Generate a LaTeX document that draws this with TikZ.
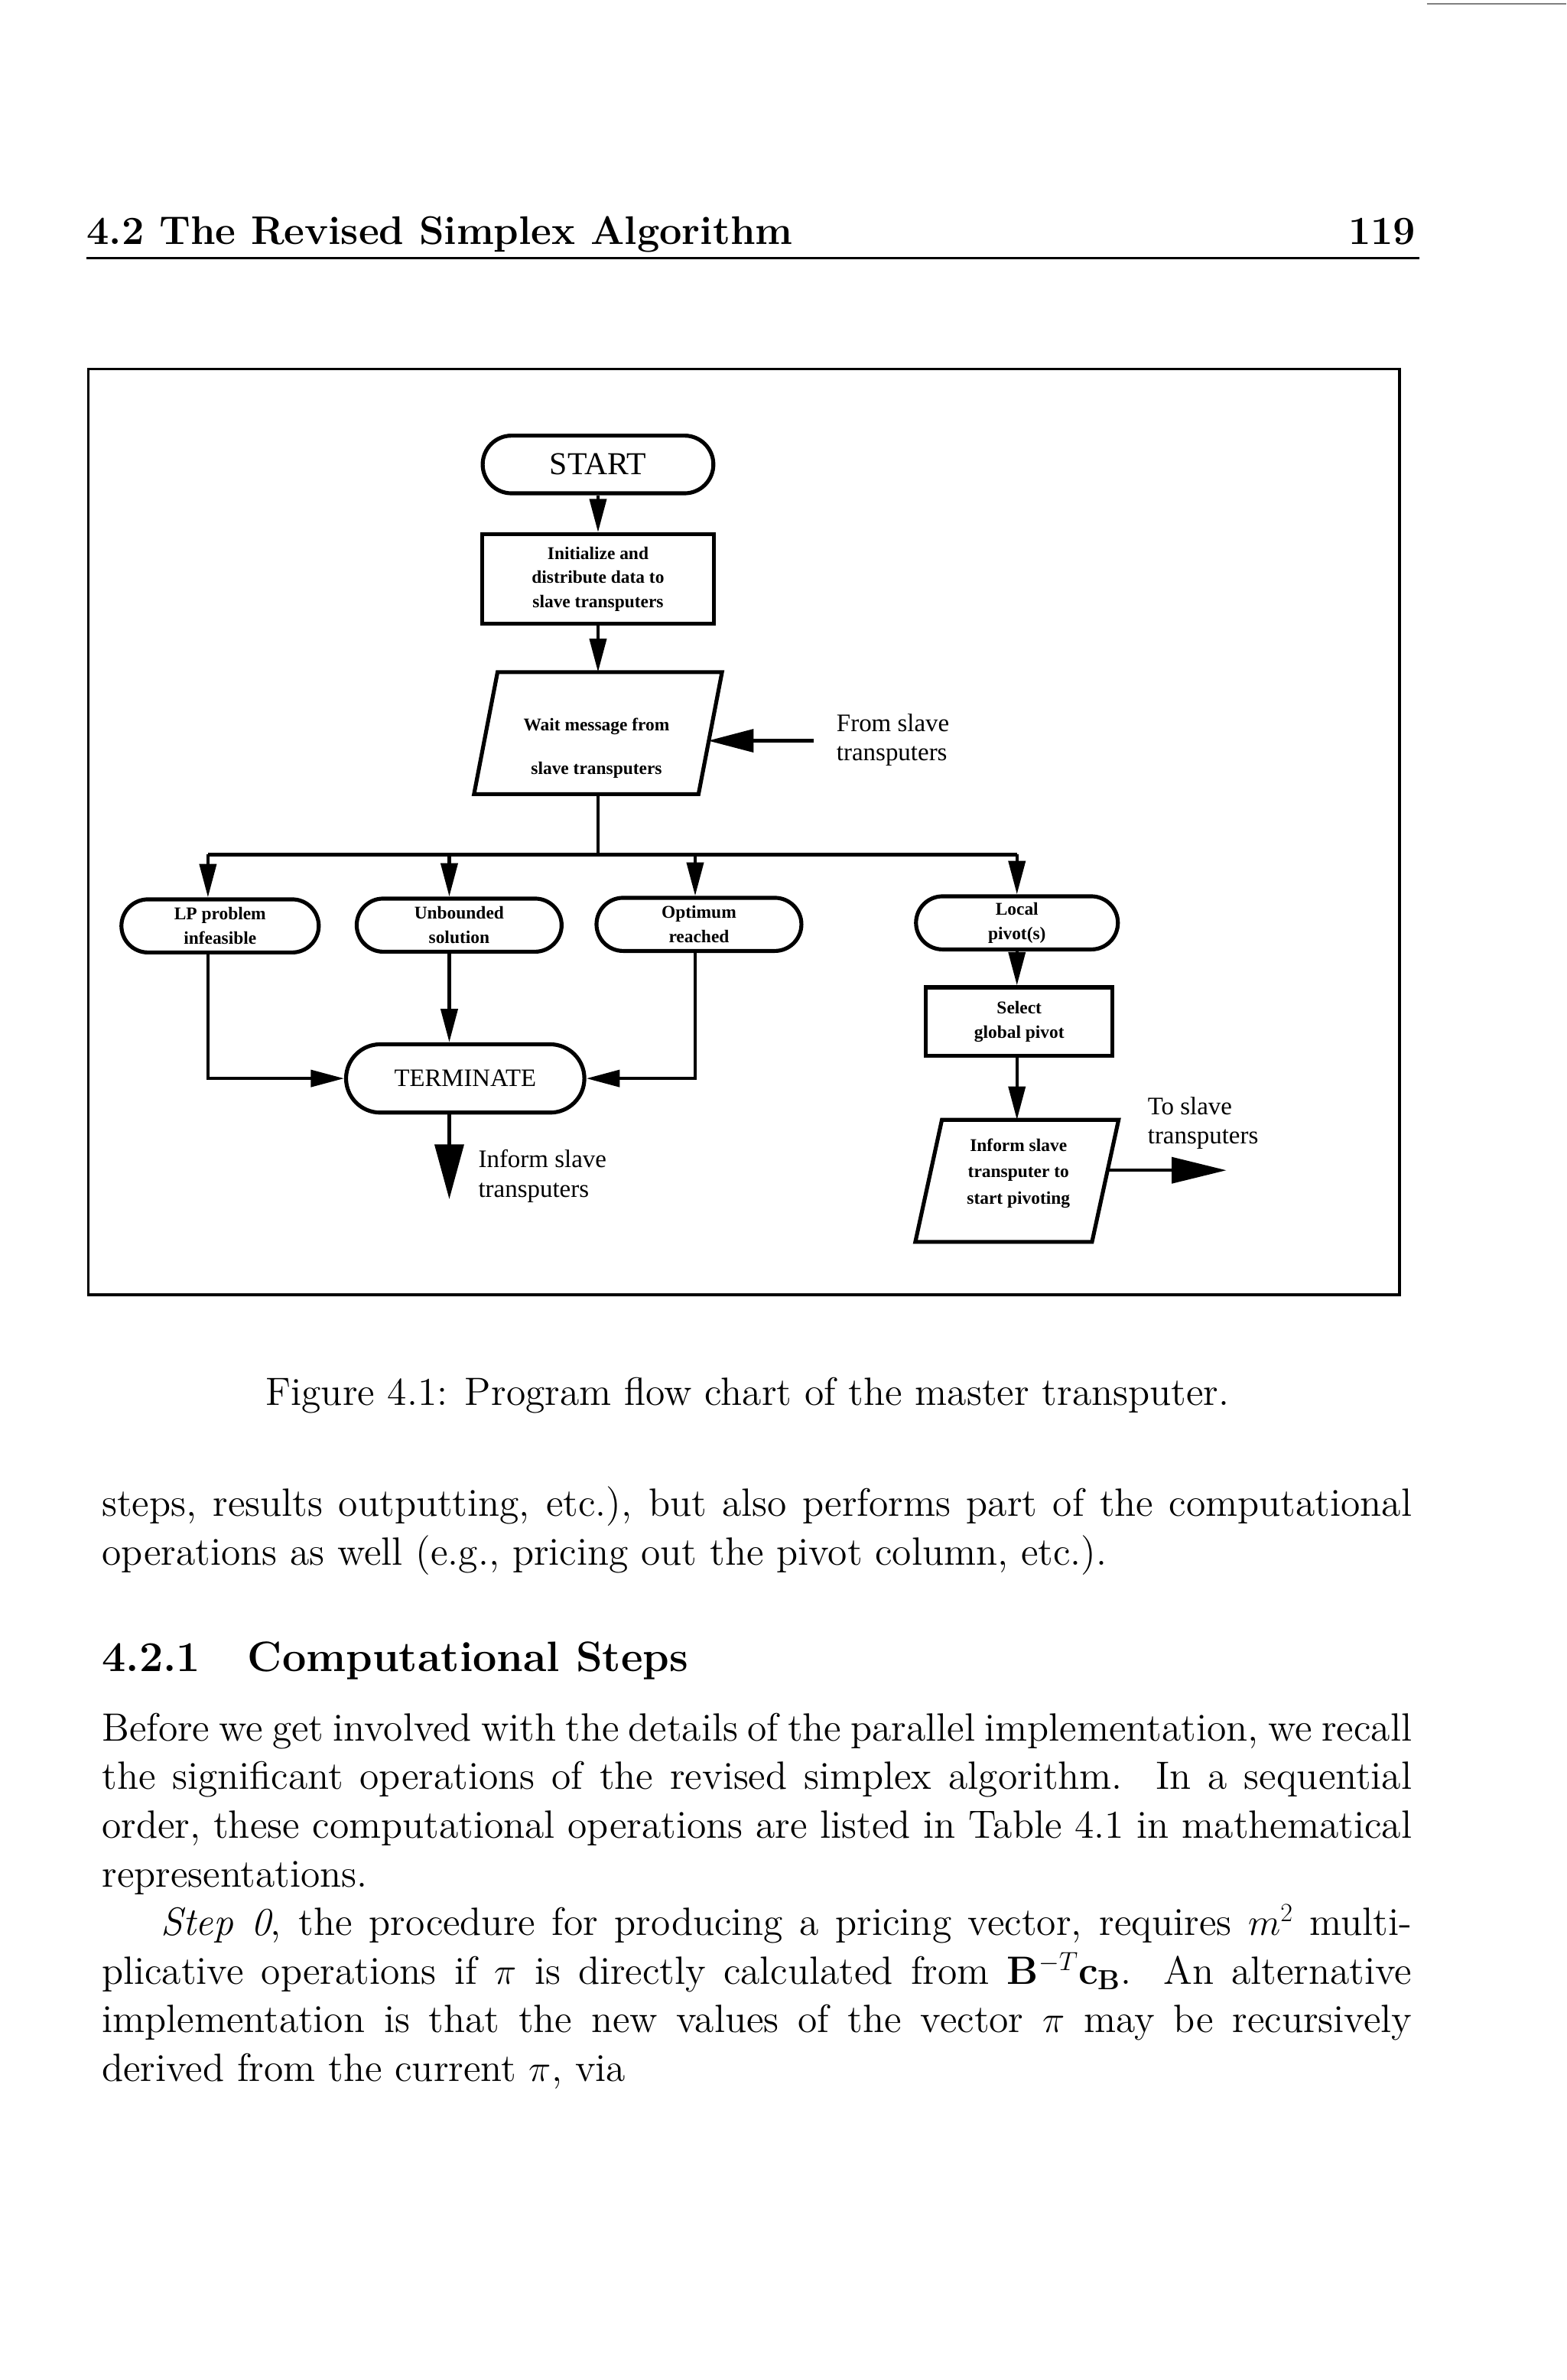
\documentclass[tikz,border=0pt]{standalone}
\usepackage{fontspec}
\setmainfont{lmroman12-regular.otf}[BoldFont=lmroman12-bold.otf, ItalicFont=lmroman12-italic.otf]
\newfontfamily\fcfont{Liberation Serif}
\usetikzlibrary{arrows.meta,calc}
\begin{document}
\begin{tikzpicture}[x=1pt,y=-1pt,
  fcb/.style={font=\fcfont\bfseries\fontsize{11.8}{16}\selectfont, align=center},
  pill/.style={draw, line width=2.6pt, minimum height=35pt, rounded corners=17.5pt, inner sep=0pt, fcb},
  boxn/.style={draw, line width=2.6pt, inner sep=0pt, fcb},
  para/.style={inner sep=0pt, minimum width=0pt, fcb},
  pgram/.style={line width=2.6pt},
  conn/.style={line width=2.2pt},
  arr/.style={conn, -{Triangle[length=22pt,width=11pt]}},
  lbl/.style={inner sep=0pt, align=left, font=\fcfont\fontsize{16.6}{19.5}\selectfont},
  body/.style={inner sep=0pt, anchor=base west, font=\fontsize{26}{32}\selectfont},
  bodyb/.style={inner sep=0pt, font=\bfseries\fontsize{26.3}{32}\selectfont},
  headb/.style={inner sep=0pt, anchor=base west, font=\bfseries\fontsize{28}{34}\selectfont}
]
\path[use as bounding box, fill=white] (0,0) rectangle (1032,1568);
% scan artefact line top right
\draw[gray, line width=0.8pt] (940,2.4) -- (1032,2.4);

% running head
\node[bodyb, anchor=base west] (hdr) at (57,161) {4.2 The Revised Simplex Algorithm};
\node[bodyb, anchor=base east] (pg) at (933,161) {119};
\draw[line width=1.5pt] (57,170) -- (935,170);

% figure frame
\draw[line width=1.6pt] (58,243) rectangle (922,853);

% flow chart nodes
\node[pill, minimum width=152pt, minimum height=38pt, rounded corners=19pt,
      font=\fcfont\fontsize{21}{24}\selectfont] (start) at (394,306) {START};
\node[boxn, minimum width=153pt, minimum height=59pt] (init) at (394,381.5)
      {\raisebox{-2pt}{\parbox{150pt}{\centering Initialize and\\distribute data to\\slave transputers}}};
\node[para, minimum width=147.5pt, minimum height=80pt] (wait) at (394,483) {};
\draw[pgram] ($(wait.north west)+(7.75,0)$) -- ($(wait.north east)+(7.75,0)$)
   -- ($(wait.south east)+(-7.75,0)$) -- ($(wait.south west)+(-7.75,0)$) -- cycle;
\node[para] (waittxt) at (393,493) {Wait message from\\[13pt]slave transputers};
\node[lbl, anchor=west] (fromlbl) at (551,487.5) {From slave\\transputers};

\node[pill, minimum width=130pt] (lp) at (145,610) {LP problem\\infeasible};
\node[pill, minimum width=135pt] (un) at (302.5,609.5) {Unbounded\\solution};
\node[pill, minimum width=135pt] (opt) at (460.5,609) {Optimum\\reached};
\node[pill, minimum width=133pt] (loc) at (670,608) {Local\\pivot(s)};

\node[pill, minimum width=157pt, minimum height=45pt, rounded corners=22.5pt,
      font=\fcfont\fontsize{16.5}{20}\selectfont] (term) at (306.5,710.5) {TERMINATE};
\node[lbl, anchor=west] (inflbl) at (315,775) {Inform slave\\transputers};

\node[boxn, minimum width=123pt, minimum height=45pt] (sel) at (671.5,673) {Select\\global pivot};
\node[para, minimum width=116pt, minimum height=80pt] (inf) at (670,778) {};
\draw[pgram] ($(inf.north west)+(8.75,0)$) -- ($(inf.north east)+(8.75,0)$)
   -- ($(inf.south east)+(-8.75,0)$) -- ($(inf.south west)+(-8.75,0)$) -- cycle;
\node[para, font=\fcfont\bfseries\fontsize{11.8}{17.5}\selectfont] (inftxt) at (671,773)
      {Inform slave\\transputer to\\start pivoting};
\node[lbl, anchor=west] (tolbl) at (756,740) {To slave\\transputers};

% coordinates
\coordinate (fromS) at (536,488);
\coordinate (waitR) at (466.5,488);
\coordinate (bus) at (394,563);
\coordinate (b1) at (137,563);
\coordinate (b2) at (296,563);
\coordinate (b3) at (458,563);
\coordinate (b4) at (670,563);
\coordinate (tEnd) at (296,790);
\coordinate (infR) at (729.5,771);
\coordinate (toS) at (808,771);

% connectors
\draw[arr] (start.south) -- (init.north);
\draw[arr] (init.south) -- (wait.north);
\draw[conn, -{Triangle[length=30pt,width=15pt]}] (fromS) -- (waitR);
\draw[conn] (wait.south) -- (bus);
\draw[conn] (b1) -- (b4);
\draw[arr] (b1) -- (b1 |- lp.north);
\draw[arr] (b2) -- (b2 |- un.north);
\draw[arr] (b3) -- (b3 |- opt.north);
\draw[arr] (b4) -- (loc.north);
\draw[arr] (b1 |- lp.south) -- (b1 |- term.west) -- (term.west);
\draw[arr] (b2 |- un.south) -- (b2 |- term.north);
\draw[arr] (b3 |- opt.south) -- (b3 |- term.east) -- (term.east);
\draw[conn, -{Triangle[length=36pt,width=19pt]}] (b2 |- term.south) -- (tEnd);
\draw[arr] (loc.south) -- (loc.south |- sel.north);
\draw[arr] (loc.south |- sel.south) -- (inf.north);
\draw[conn, -{Triangle[length=36pt,width=17pt]}] (infR) -- (toS);

% caption
\node[body, anchor=base] (cap) at (492.5,926) {Figure 4.1: Program flow chart of the master transputer.};

% body text
\node[body] (l1) at (67,999) {\makebox[863pt][s]{steps, results outputting, etc.), but also performs part of the computational}};
\node[body] (l2) at (67,1031) {operations as well (e.g., pricing out the pivot column, etc.).};
\node[headb] (h1) at (67,1101) {4.2.1};
\node[headb] (h2) at (163,1101) {Computational Steps};
\node[body] (p1) at (67,1147) {\makebox[863pt][s]{Before we get involved with the details of the parallel implementation, we recall}};
\node[body] (p2) at (67,1179) {\makebox[863pt][s]{the significant operations of the revised simplex algorithm.\ \ In a sequential}};
\node[body] (p3) at (67,1211) {\makebox[863pt][s]{order, these computational operations are listed in Table 4.1 in mathematical}};
\node[body] (p4) at (67,1243) {representations.};
\node[body] (p5) at (106,1275) {\makebox[824pt][s]{\textit{Step 0}, the procedure for producing a pricing vector, requires $m^2$ multi-}};
\node[body] (p6) at (67,1307) {\makebox[863pt][s]{plicative operations if $\pi$ is directly calculated from $\mathbf{B}^{-T}\mathbf{c}_{\mathbf{B}}$. An alternative}};
\node[body] (p7) at (67,1339) {\makebox[863pt][s]{implementation is that the new values of the vector $\pi$ may be recursively}};
\node[body] (p8) at (67,1371) {derived from the current $\pi$, via};
\end{tikzpicture}
\end{document}
